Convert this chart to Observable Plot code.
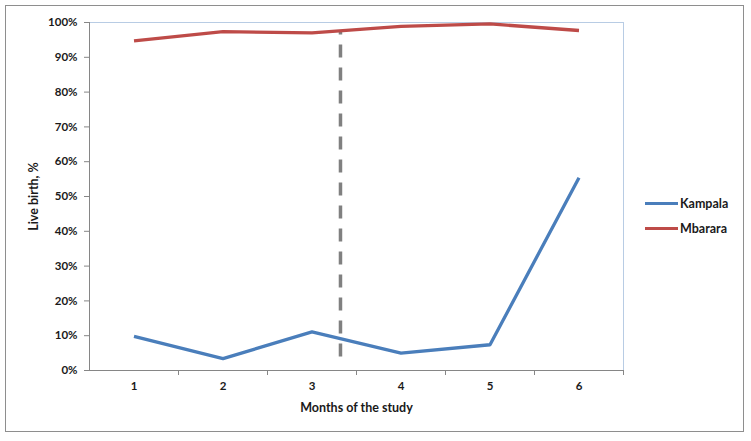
<!DOCTYPE html>
<html>
<head>
<meta charset="utf-8">
<script src="https://cdn.jsdelivr.net/npm/d3@7"></script>
<script src="https://cdn.jsdelivr.net/npm/@observablehq/plot@0.6"></script>
<style>
  html, body { margin: 0; padding: 0; background: #fff; }
  #wrap { position: relative; width: 751px; height: 441px; font-family: Lato, "Open Sans", sans-serif; }
  #frame { position: absolute; left: 5px; top: 5px; width: 739px; height: 427px; border: 1.5px solid #8e8e8e; box-sizing: border-box; pointer-events: none; }
  #chart { position: absolute; left: 0; top: 0; }
  .leg { position: absolute; left: 645px; display: flex; align-items: center; font-weight: bold; font-size: 12.5px; color: #1a1a1a; }
  .leg span.sw { display: inline-block; width: 33px; height: 3.5px; margin-right: 2px; }
</style>
</head>
<body>
<div id="wrap">
  <div id="chart"></div>
  <div id="frame"></div>
  <div id="legend"></div>
</div>
<script>
const months = [1, 2, 3, 4, 5, 6];
const kampala = [0.098, 0.034, 0.111, 0.050, 0.074, 0.554];
const mbarara = [0.947, 0.974, 0.970, 0.989, 0.996, 0.977];
const seriesNames = ["Kampala", "Mbarara"];
const seriesColors = ["#4a7ebb", "#be4b48"];
const yTicks = [0, 0.1, 0.2, 0.3, 0.4, 0.5, 0.6, 0.7, 0.8, 0.9, 1];
const bandEdges = [1.5, 2.5, 3.5, 4.5, 5.5, 6.5];
const cutMonth = 3.32;
const cutRange = [0.039, 0.977];

const rows = [];
months.forEach((m, i) => {
  rows.push({month: m, value: kampala[i], series: seriesNames[0]});
  rows.push({month: m, value: mbarara[i], series: seriesNames[1]});
});

const textColor = "#1a1a1a";

const plot = Plot.plot({
  width: 751,
  height: 441,
  marginLeft: 89,
  marginRight: 128,
  marginTop: 22,
  marginBottom: 71,
  style: {fontFamily: "Lato, 'Open Sans', sans-serif", fontSize: "11px", fontWeight: "bold", color: textColor, background: "transparent"},
  x: {domain: [0.5, 6.5], label: null},
  y: {domain: [0, 1], label: null},
  color: {domain: seriesNames, range: seriesColors},
  marks: [
    Plot.ruleY([1], {stroke: "#b8cce4", strokeWidth: 1}),
    Plot.ruleX([6.5], {stroke: "#b8cce4", strokeWidth: 1}),
    Plot.axisY({ticks: yTicks, tickFormat: d3.format(".0%"), tickSize: 5, tickPadding: 7, stroke: "#868686", fill: textColor, fontSize: 11.5, label: null}),
    Plot.axisX({ticks: bandEdges, tickFormat: () => "", tickSize: 5, stroke: "#868686", label: null}),
    Plot.axisX({ticks: months, tickFormat: d3.format("d"), tickSize: 0, tickPadding: 11, fill: textColor, fontSize: 11.5, label: null}),
    Plot.ruleX([0.5], {stroke: "#868686", strokeWidth: 1}),
    Plot.ruleY([0], {stroke: "#868686", strokeWidth: 1}),
    Plot.ruleX([cutMonth], {y1: cutRange[0], y2: cutRange[1], stroke: "#808080", strokeWidth: 3.5, strokeDasharray: "13,10"}),
    Plot.line(rows, {x: "month", y: "value", z: "series", stroke: "series", strokeWidth: 3.3, strokeLinecap: "butt"}),
    Plot.text(["Months of the study"], {frameAnchor: "bottom", dy: 37, lineAnchor: "middle", textAnchor: "middle", fontSize: 12.5, fontWeight: "bold", fill: textColor}),
    Plot.text(["Live birth, %"], {frameAnchor: "left", dx: -56, rotate: -90, textAnchor: "middle", lineAnchor: "middle", fontSize: 12.5, fontWeight: "bold", fill: textColor})
  ]
});
document.getElementById("chart").appendChild(plot);

const legend = document.getElementById("legend");
const legTops = [196, 221];
seriesNames.forEach((name, i) => {
  const d = document.createElement("div");
  d.className = "leg";
  d.style.top = legTops[i] + "px";
  d.innerHTML = `<span class="sw" style="background:${seriesColors[i]}"></span>${name}`;
  legend.appendChild(d);
});
</script>
</body>
</html>
